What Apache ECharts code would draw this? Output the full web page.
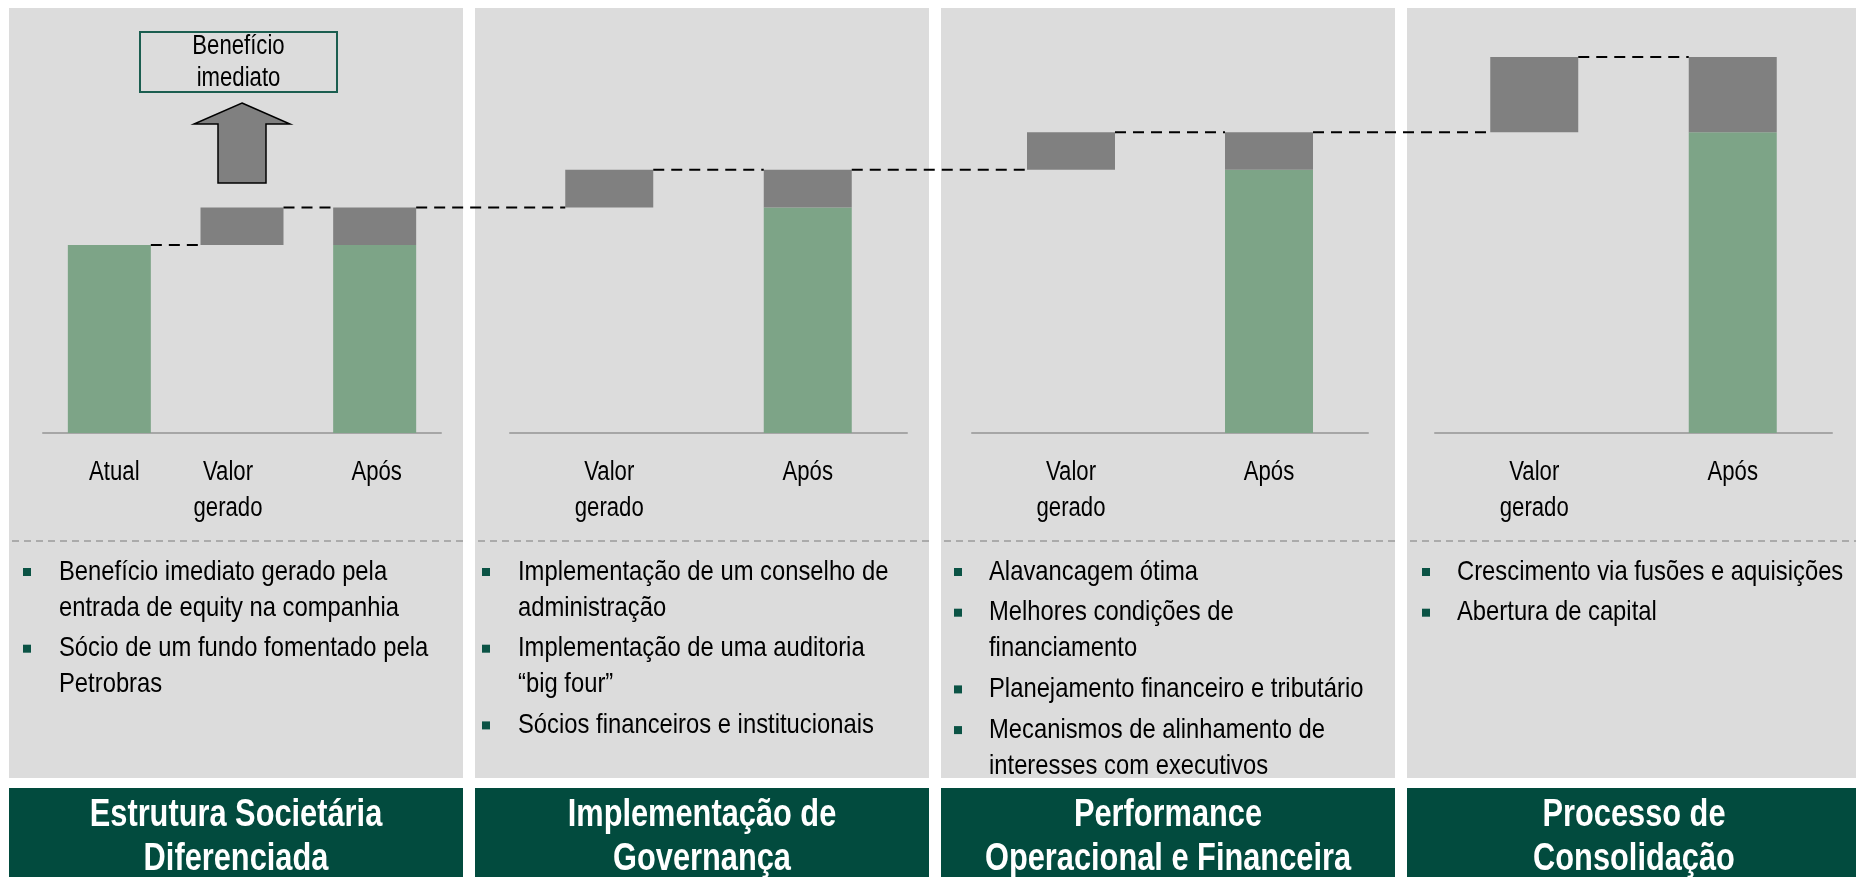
<!DOCTYPE html>
<html>
<head>
<meta charset="utf-8">
<title>Criação de valor</title>
<script src="https://cdn.jsdelivr.net/npm/echarts@6/dist/echarts.min.js"></script>
<style>
html, body { margin: 0; padding: 0; background: #fff; }
#chart { width: 1856px; height: 877px; }
</style>
</head>
<body>
<div id="chart"></div>
<script>
var categorias = [
    ['Atual', 'Valor\ngerado', 'Após'],
    ['Valor\ngerado', 'Após'],
    ['Valor\ngerado', 'Após'],
    ['Valor\ngerado', 'Após']
];
var valorAtual = 5;
var valorGerado = [1, 1, 1, 2];
var titulos = [
    'Estrutura Societária\nDiferenciada',
    'Implementação de\nGovernança',
    'Performance\nOperacional e Financeira',
    'Processo de\nConsolidação'
];
var bullets = [
    ['Benefício imediato gerado pela\nentrada de equity na companhia', 'Sócio de um fundo fomentado pela\nPetrobras'],
    ['Implementação de um conselho de\nadministração', 'Implementação de uma auditoria\n“big four”', 'Sócios financeiros e institucionais'],
    ['Alavancagem ótima', 'Melhores condições de\nfinanciamento', 'Planejamento financeiro e tributário', 'Mecanismos de alinhamento de\ninteresses com executivos'],
    ['Crescimento via fusões e aquisições', 'Abertura de capital']
];
var destaque = 'Benefício\nimediato';

// layout
var FONT = "'Liberation Sans Narrow', 'Arial Narrow', 'Liberation Sans', Arial, sans-serif";
var painelX = [9, 475, 941, 1407];
var painelW = 454;
var gridX = [43, 510, 972, 1435];
var gridW = [398, 397, 396, 397];
var barW = [83, 88, 88, 88];
var bulletDx = [14, 7, 13, 15];
var textoDx = [50, 43, 48, 50];
var rotuloDx = [[5, -14, 2], [0, 0], [0, 0], [0, 0]]; // caixas de texto do slide nao centradas
var corVerde = '#7da487';
var corCinza = '#808080';
var corEscuro = '#024b3e';

var chart = echarts.init(document.getElementById('chart'));

var grids = [], xAxes = [], yAxes = [], series = [];
var barras = []; // sequencia de barras p/ linhas tracejadas
var nivel = valorAtual;
for (var g = 0; g < 4; g++) {
    grids.push({ left: gridX[g], width: gridW[g], top: 57, bottom: 444 });
    xAxes.push({
        type: 'category', gridIndex: g, data: categorias[g],
        axisLine: { lineStyle: { color: '#a6a6a6', width: 2 } },
        axisTick: { show: false },
        axisLabel: { show: false } // desenhados abaixo, condensados
    });
    yAxes.push({ type: 'value', gridIndex: g, min: 0, max: 10, show: false, splitLine: { show: false } });

    var base = [], verde = [], cinza = [];
    var ini = nivel, fim = nivel + valorGerado[g];
    categorias[g].forEach(function (c, i) {
        if (c === 'Atual') {
            base.push(0); verde.push(valorAtual); cinza.push('-');
            barras.push({ g: g, i: i, topo: valorAtual });
        } else if (c === 'Após') {
            base.push(0); verde.push(ini); cinza.push(valorGerado[g]);
            barras.push({ g: g, i: i, topo: fim });
        } else {
            base.push(ini); verde.push('-'); cinza.push(valorGerado[g]);
            barras.push({ g: g, i: i, topo: fim });
        }
    });
    nivel = fim;

    var comum = { type: 'bar', xAxisIndex: g, yAxisIndex: g, stack: 's' + g, barWidth: barW[g], silent: true, animation: false };
    series.push(Object.assign({ name: 'base' + g, data: base, itemStyle: { color: 'transparent' } }, comum));
    series.push(Object.assign({ name: 'verde' + g, data: verde, itemStyle: { color: corVerde } }, comum));
    series.push(Object.assign({ name: 'cinza' + g, data: cinza, itemStyle: { color: corCinza } }, comum));
}

chart.setOption({
    backgroundColor: '#fff',
    animation: false,
    grid: grids,
    xAxis: xAxes,
    yAxis: yAxes,
    series: series
});

function texto(x, y, txt, extra, escala) {
    return {
        type: 'text', z: 10, x: x, y: y, scaleX: escala,
        style: Object.assign({ text: txt, x: 0, y: 0, fill: '#000', fontFamily: FONT }, extra)
    };
}

// elementos graficos
var graficos = [];
for (var p = 0; p < 4; p++) {
    var x0 = painelX[p];
    graficos.push({ type: 'rect', z: -10, shape: { x: x0, y: 8, width: painelW, height: 770 }, style: { fill: '#dcdcdc' } });
    graficos.push({ type: 'rect', z: -10, shape: { x: x0, y: 788, width: painelW, height: 100 }, style: { fill: corEscuro } });
    graficos.push({ type: 'line', z: 5, shape: { x1: x0 + 3, y1: 541, x2: x0 + painelW, y2: 541 },
        style: { stroke: '#9a9a9a', lineWidth: 1.5, lineDash: [7, 5] } });
    graficos.push(texto(x0 + painelW / 2, 838, titulos[p], {
        align: 'center', verticalAlign: 'middle', fill: '#fff', fontSize: 38, fontWeight: 'bold', lineHeight: 44 }, 0.81));
    var linha = 0;
    bullets[p].forEach(function (b, k) {
        var yc = 572 + linha * 36 + k * 4.7;
        graficos.push({ type: 'rect', z: 5, shape: { x: x0 + bulletDx[p], y: yc - 4, width: 8, height: 8 }, style: { fill: '#0b5345' } });
        graficos.push(texto(x0 + textoDx[p], yc - 18, b, { verticalAlign: 'top', fontSize: 28, lineHeight: 36 }, 0.85));
        linha += b.split('\n').length;
    });
    // rotulos das categorias, na posicao do eixo
    categorias[p].forEach(function (c, i) {
        var pt = chart.convertToPixel({ gridIndex: p }, [i, 0]);
        graficos.push(texto(pt[0] + rotuloDx[p][i], pt[1] + 22, c, { align: 'center', verticalAlign: 'top', fontSize: 27, lineHeight: 36 }, 0.82));
    });
}

// linhas tracejadas ligando os topos
for (var k = 0; k < barras.length - 1; k++) {
    var a = barras[k], b = barras[k + 1];
    var pa = chart.convertToPixel({ gridIndex: a.g }, [a.i, a.topo]);
    var pb = chart.convertToPixel({ gridIndex: b.g }, [b.i, a.topo]);
    graficos.push({ type: 'line', z: 10, shape: {
        x1: pa[0] + barW[a.g] / 2, y1: pa[1], x2: pb[0] - barW[b.g] / 2, y2: pb[1] },
        style: { stroke: '#000', lineWidth: 2, lineDash: [11, 7] } });
}

// seta e caixa "Benefício imediato" sobre a barra de valor gerado
var cx = chart.convertToPixel({ gridIndex: 0 }, [1, 0])[0];
graficos.push({ type: 'polygon', z: 10, shape: { points: [
    [cx, 103], [cx + 48, 124], [cx + 24, 124], [cx + 24, 183], [cx - 24, 183], [cx - 24, 124], [cx - 48, 124]] },
    style: { fill: '#808080', stroke: '#000', lineWidth: 1.5 } });
graficos.push({ type: 'rect', z: 10, shape: { x: cx - 102, y: 32, width: 197, height: 60 },
    style: { fill: 'transparent', stroke: '#1b5e50', lineWidth: 2 } });
graficos.push(texto(cx - 3.5, 63, destaque, { align: 'center', verticalAlign: 'middle', fontSize: 27, lineHeight: 32 }, 0.82));

chart.setOption({ graphic: graficos });
</script>
</body>
</html>
